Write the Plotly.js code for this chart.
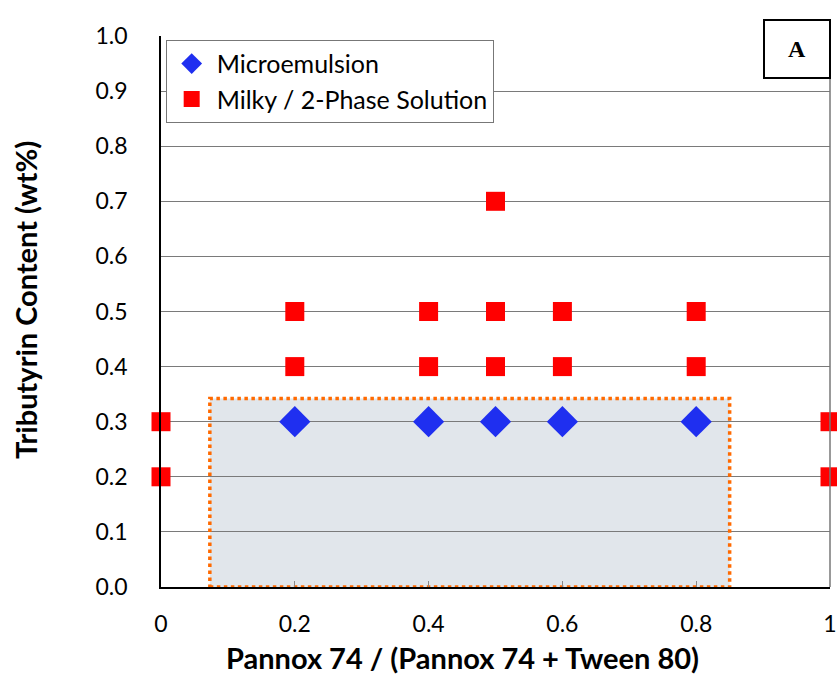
<!DOCTYPE html>
<html><head><meta charset="utf-8">
<script src="https://cdn.plot.ly/plotly-3.0.1.min.js"></script>
<style>body{margin:0;background:#fff}#chart{width:837px;height:675px}</style>
</head><body><div id="chart"></div>
<script>
const microX = [0.2, 0.4, 0.5, 0.6, 0.8];
const microY = [0.3, 0.3, 0.3, 0.3, 0.3];
const milkyX = [0, 0, 0.2, 0.2, 0.4, 0.4, 0.5, 0.5, 0.5, 0.6, 0.6, 0.8, 0.8, 1, 1];
const milkyY = [0.2, 0.3, 0.4, 0.5, 0.4, 0.5, 0.4, 0.5, 0.7, 0.4, 0.5, 0.4, 0.5, 0.2, 0.3];
const xTicks = [0, 0.2, 0.4, 0.6, 0.8, 1];
const xTickText = ['0', '0.2', '0.4', '0.6', '0.8', '1'];
const regionX = [0.073, 0.85];
const regionY = [0, 0.342];
const xTitle = 'Pannox 74 / (Pannox 74 + Tween 80)';
const yTitle = 'Tributyrin Content (wt%)';

const font = 'Lato, Open Sans, sans-serif';
const traces = [
  {x: microX, y: microY, type: 'scatter', mode: 'markers', name: 'Microemulsion',
   cliponaxis: false,
   marker: {symbol: 'diamond', size: 24, color: '#1f2ff0', line: {width: 0}}},
  {x: milkyX, y: milkyY, type: 'scatter', mode: 'markers', name: 'Milky / 2-Phase Solution',
   cliponaxis: false,
   marker: {symbol: 'square', size: 19, color: '#ff0000', line: {width: 0}}}
];
const layout = {
  width: 837, height: 675,
  margin: {l: 161, r: 7, t: 36, b: 88},
  paper_bgcolor: '#fff', plot_bgcolor: '#fff',
  showlegend: true,
  legend: {x: 0.007, y: 0.993, xanchor: 'left', yanchor: 'top',
    bgcolor: '#fff', bordercolor: '#777', borderwidth: 1, itemwidth: 40,
    font: {family: font, size: 25, color: '#000'}, tracegroupgap: 0},
  xaxis: {range: [0, 1], tickvals: xTicks, ticktext: xTickText,
    showgrid: false, zeroline: false, showline: true, linecolor: '#000', linewidth: 1.5,
    ticks: 'inside', ticklen: 6, tickcolor: '#888', tickwidth: 1,
    ticklabelstandoff: 16,
    tickfont: {family: font, size: 23, color: '#000'}},
  yaxis: {range: [0, 1], dtick: 0.1, tickformat: '.1f',
    showgrid: true, gridcolor: '#7a7a7a', gridwidth: 1,
    zeroline: false, showline: true, linecolor: '#000', linewidth: 1.5,
    ticks: '', ticklabelstandoff: 27,
    tickfont: {family: font, size: 23, color: '#000'}},
  shapes: [
    {type: 'rect', xref: 'x', yref: 'y', x0: regionX[0], x1: regionX[1], y0: regionY[0], y1: regionY[1],
     fillcolor: '#e1e6eb', line: {width: 0}, layer: 'below'},
    {type: 'rect', xref: 'x', yref: 'y', x0: regionX[0], x1: regionX[1], y0: regionY[0], y1: regionY[1],
     fillcolor: 'rgba(0,0,0,0)', line: {color: '#ff6a00', width: 3.5, dash: 'dot'}, layer: 'between'},
    {type: 'line', xref: 'paper', yref: 'paper', x0: 1, x1: 1, y0: 0, y1: 1,
     line: {color: '#777', width: 1.5}}
  ],
  annotations: [
    {xref: 'paper', yref: 'paper', x: 0.951, y: 0.976, xanchor: 'center', yanchor: 'middle',
     text: '<b>A</b>', showarrow: false, width: 62, height: 54,
     bgcolor: '#fff', bordercolor: '#000', borderwidth: 2,
     font: {family: 'Liberation Serif, serif', size: 24, color: '#000'}},
    {xref: 'paper', yref: 'paper', x: 0.451, y: -0.128, xanchor: 'center', yanchor: 'middle',
     text: '<b>' + xTitle + '</b>', showarrow: false,
     font: {family: font, size: 29, color: '#000'}},
    {xref: 'paper', yref: 'paper', x: -0.2018, y: 0.521, xanchor: 'center', yanchor: 'middle',
     text: '<b>' + yTitle + '</b>', showarrow: false, textangle: -90,
     font: {family: font, size: 29, color: '#000'}}
  ]
};
Plotly.newPlot('chart', traces, layout, {displayModeBar: false});
</script></body></html>
